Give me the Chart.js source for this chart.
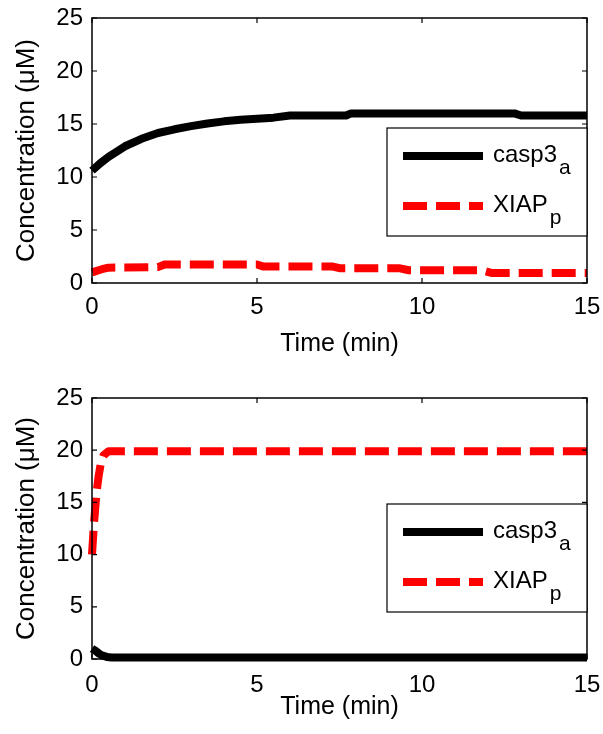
<!DOCTYPE html>
<html>
<head>
<meta charset="utf-8">
<script src="https://cdn.jsdelivr.net/npm/chart.js@4/dist/chart.umd.min.js"></script>
<style>
  html, body { margin: 0; padding: 0; background: #fff; }
  .wrap { position: absolute; left: 0; width: 603px; height: 367px; }
</style>
</head>
<body>
<div class="wrap" style="top:0"><canvas id="c1" width="603" height="367"></canvas></div>
<div class="wrap" style="top:367px"><canvas id="c2" width="603" height="367"></canvas></div>
<script>
// ---- data ----
const seriesNames = ['casp3', 'XIAP'];
const seriesSubs = ['a', 'p'];
const xTicks = [0, 5, 10, 15];
const yTicks = [0, 5, 10, 15, 20, 25];

// top panel
const timeTopCasp = [0, 0.25, 0.5, 1, 1.5, 2, 2.5, 3, 3.5, 4, 4.5, 5, 5.5, 6, 7.7, 7.85, 12.8, 13, 15];
const casp3aTop   = [10.6, 11.3, 11.9, 12.9, 13.6, 14.15, 14.5, 14.8, 15.05, 15.25, 15.4, 15.5, 15.6, 15.8, 15.8, 16.0, 16.0, 15.8, 15.8];
const timeTopXiap = [0, 0.3, 0.5, 2, 2.2, 5, 5.2, 7.3, 7.5, 9.3, 9.6, 11.8, 12.1, 15];
const xiapTop     = [1.0, 1.3, 1.45, 1.5, 1.75, 1.75, 1.55, 1.55, 1.4, 1.4, 1.2, 1.2, 0.95, 0.95];

// bottom panel
const timeBotCasp = [0, 0.1, 0.2, 0.3, 0.45, 0.6, 15];
const casp3aBot   = [1.0, 0.8, 0.55, 0.35, 0.2, 0.15, 0.15];
const timeBotXiap = [0, 0.03, 0.06, 0.1, 0.14, 0.2, 0.27, 0.35, 0.5, 15];
const xiapBot     = [10, 11.5, 13, 14.5, 16, 17.5, 18.8, 19.5, 19.9, 19.9];

const FONT = "'Liberation Sans', Arial, sans-serif";

function pts(xs, ys) { return xs.map((x, i) => ({ x: x, y: ys[i] })); }

const framePlugin = {
  id: 'frameLegend',
  afterDraw(chart, args, opts) {
    const ctx = chart.ctx;
    const a = chart.chartArea;
    const xs = chart.scales.x, ys = chart.scales.y;
    ctx.save();
    ctx.strokeStyle = '#000';
    ctx.lineWidth = 1.5;
    ctx.strokeRect(a.left, a.top, a.right - a.left, a.bottom - a.top);
    ctx.lineWidth = 1.2;
    ctx.beginPath();
    yTicks.forEach(v => {
      const y = ys.getPixelForValue(v);
      ctx.moveTo(a.left, y); ctx.lineTo(a.left + 5, y);
      ctx.moveTo(a.right, y); ctx.lineTo(a.right - 5, y);
    });
    xTicks.forEach(v => {
      const x = xs.getPixelForValue(v);
      ctx.moveTo(x, a.bottom); ctx.lineTo(x, a.bottom - 5);
      ctx.moveTo(x, a.top); ctx.lineTo(x, a.top + 5);
    });
    ctx.stroke();

    // legend
    const w = opts.width, h = opts.height;
    const lx = a.right - w, ly = a.top + opts.offsetTop;
    ctx.fillStyle = '#fff';
    ctx.fillRect(lx, ly, w, h);
    ctx.lineWidth = 1.2;
    ctx.strokeStyle = '#000';
    ctx.strokeRect(lx, ly, w, h);
    const rows = [28, 78];
    chart.data.datasets.forEach((ds, i) => {
      const y = ly + rows[i];
      ctx.beginPath();
      ctx.strokeStyle = ds.borderColor;
      ctx.lineWidth = ds.borderWidth;
      ctx.lineCap = 'butt';
      ctx.setLineDash(ds.borderDash || []);
      ctx.moveTo(lx + 16, y); ctx.lineTo(lx + 96, y);
      ctx.stroke();
      ctx.setLineDash([]);
      ctx.fillStyle = '#000';
      ctx.textBaseline = 'alphabetic';
      ctx.textAlign = 'left';
      ctx.font = '24px ' + FONT;
      const base = y + 6;
      ctx.fillText(seriesNames[i], lx + 106, base);
      const tw = ctx.measureText(seriesNames[i]).width;
      ctx.font = '21px ' + FONT;
      ctx.fillText(seriesSubs[i], lx + 106 + tw + 2, base + 12);
    });
    ctx.restore();
  }
};

function makeChart(id, caspT, caspV, xiapT, xiapV, lay) {
  return new Chart(document.getElementById(id), {
    type: 'line',
    data: {
      datasets: [
        { label: 'casp3a', data: pts(caspT, caspV), borderColor: '#000000', borderWidth: 8,
          pointRadius: 0, tension: 0, clip: 8, borderJoinStyle: 'round', borderCapStyle: 'butt' },
        { label: 'XIAPp', data: pts(xiapT, xiapV), borderColor: '#ff0000', borderWidth: 8,
          borderDash: [24, 9], pointRadius: 0, tension: 0, clip: 8, borderJoinStyle: 'round', borderCapStyle: 'butt' }
      ]
    },
    options: {
      responsive: false,
      animation: false,
      devicePixelRatio: 1,
      layout: { padding: { top: lay.top, right: 16, left: 0, bottom: 0 } },
      plugins: {
        legend: { display: false },
        tooltip: { enabled: false },
        frameLegend: { width: 200, height: 108, offsetTop: lay.legTop }
      },
      scales: {
        x: {
          type: 'linear', min: 0, max: 15,
          afterBuildTicks: s => { s.ticks = xTicks.map(v => ({ value: v })); },
          afterFit: s => { s.height = lay.xh; s.paddingLeft = 0; s.paddingRight = 0; },
          grid: { display: false, drawTicks: false },
          border: { display: false },
          ticks: { color: '#000', font: { family: FONT, size: 24 }, padding: lay.xpad, maxRotation: 0 },
          title: { display: true, text: 'Time (min)', color: '#000',
                   font: { family: FONT, size: 25 }, padding: { top: 0, bottom: lay.tpad } }
        },
        y: {
          type: 'linear', min: 0, max: 25,
          afterBuildTicks: s => { s.ticks = yTicks.map(v => ({ value: v })); },
          afterFit: s => { s.width = 92; s.paddingTop = 0; s.paddingBottom = 0; },
          grid: { display: false, drawTicks: false },
          border: { display: false },
          ticks: { color: '#000', font: { family: FONT, size: 24 }, padding: 9 },
          title: { display: true, text: 'Concentration (μM)', color: '#000',
                   font: { family: FONT, size: 26 }, padding: { top: 11, bottom: 0 } }
        }
      }
    },
    plugins: [framePlugin]
  });
}

makeChart('c1', timeTopCasp, casp3aTop, timeTopXiap, xiapTop, { top: 18, xh: 84, xpad: 10, tpad: 8, legTop: 110 });
makeChart('c2', timeBotCasp, casp3aBot, timeBotXiap, xiapBot, { top: 31, xh: 75, xpad: 12, tpad: 12, legTop: 106 });
</script>
</body>
</html>
